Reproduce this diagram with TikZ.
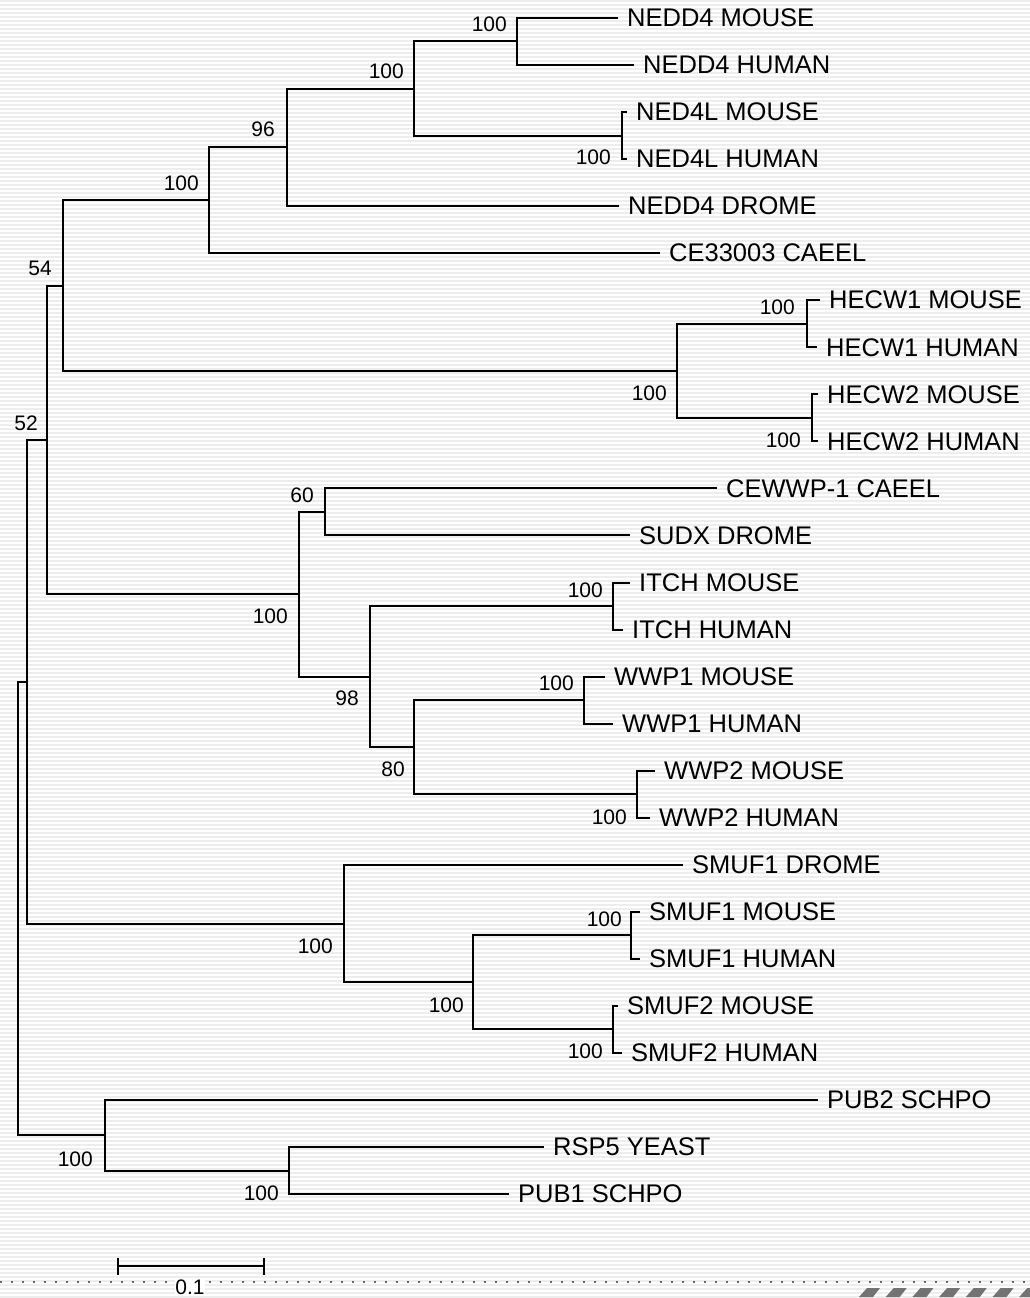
\documentclass[tikz,border=0pt]{standalone}
\usepackage{fontspec}
\setmainfont{Liberation Sans}
\begin{document}
\begin{tikzpicture}[x=1pt,y=-1pt,
  branch/.style={line width=2pt, line join=miter},
  leaf/.style={anchor=west, inner xsep=9pt, inner ysep=0pt, font=\fontsize{25.5}{30}\selectfont},
  bs/.style={anchor=east, inner sep=0pt, font=\fontsize{21}{25}\selectfont},
  stripe/.style={line width=1.6pt, black!7},
  hatch/.style={fill=black!55, draw=none}]
\useasboundingbox (0,0) rectangle (1030,1298);
\fill[white] (0,0) rectangle (1030,1298);
\foreach \i in {0,...,324} \draw[stripe] (0,{\i*4+1}) -- (1030,{\i*4+1});

% leaves
\node[leaf] (l1) at (618,18) {NEDD4 MOUSE};
\node[leaf] (l2) at (634,65) {NEDD4 HUMAN};
\node[leaf] (l3) at (627,112.1) {NED4L MOUSE};
\node[leaf] (l4) at (627,159.1) {NED4L HUMAN};
\node[leaf] (l5) at (619,206.2) {NEDD4 DROME};
\node[leaf] (l6) at (660,253.2) {CE33003 CAEEL};
\node[leaf] (l7) at (820,300.2) {HECW1 MOUSE};
\node[leaf] (l8) at (817,347.3) {HECW1 HUMAN};
\node[leaf] (l9) at (818,394.3) {HECW2 MOUSE};
\node[leaf] (l10) at (818,441.4) {HECW2 HUMAN};
\node[leaf] (l11) at (717,488.4) {CEWWP-1 CAEEL};
\node[leaf] (l12) at (630,535.4) {SUDX DROME};
\node[leaf] (l13) at (630,582.5) {ITCH MOUSE};
\node[leaf] (l14) at (623,629.5) {ITCH HUMAN};
\node[leaf] (l15) at (605,676.6) {WWP1 MOUSE};
\node[leaf] (l16) at (613,723.6) {WWP1 HUMAN};
\node[leaf] (l17) at (655,770.6) {WWP2 MOUSE};
\node[leaf] (l18) at (650,817.7) {WWP2 HUMAN};
\node[leaf] (l19) at (683,864.7) {SMUF1 DROME};
\node[leaf] (l20) at (640,911.8) {SMUF1 MOUSE};
\node[leaf] (l21) at (640,958.8) {SMUF1 HUMAN};
\node[leaf] (l22) at (618,1005.8) {SMUF2 MOUSE};
\node[leaf] (l23) at (622,1052.9) {SMUF2 HUMAN};
\node[leaf] (l24) at (818,1099.9) {PUB2 SCHPO};
\node[leaf] (l25) at (544,1147) {RSP5 YEAST};
\node[leaf] (l26) at (509,1194) {PUB1 SCHPO};

% internal nodes
\coordinate (n1) at (517,41.5);
\coordinate (n2) at (622,135.6);
\coordinate (nA) at (414,88.5);
\coordinate (nB) at (287,147.4);
\coordinate (nC) at (209,200.3);
\coordinate (h1) at (807,323.8);
\coordinate (h2) at (812,417.9);
\coordinate (nH) at (677,370.8);
\coordinate (nD) at (63,285.5);
\coordinate (n60) at (325,511.9);
\coordinate (nI) at (613,606);
\coordinate (nW1) at (584,700.1);
\coordinate (nW2) at (637,794.2);
\coordinate (n80) at (414,747.1);
\coordinate (n98) at (370,676.5);
\coordinate (nM) at (299,594.2);
\coordinate (n52) at (47,439.9);
\coordinate (s1) at (631,935.3);
\coordinate (s2) at (613,1029.4);
\coordinate (nS) at (473,982.3);
\coordinate (nSD) at (344,923.5);
\coordinate (nE) at (27,681.7);
\coordinate (y1) at (289,1170.5);
\coordinate (nP) at (105,1135.2);
\coordinate (root) at (18,908.5);

% branches
\draw[branch] (n1) |- (l1.west) (n1) |- (l2.west);
\draw[branch] (n2) |- (l3.west) (n2) |- (l4.west);
\draw[branch] (nA) |- (n1) (nA) |- (n2);
\draw[branch] (nB) |- (nA) (nB) |- (l5.west);
\draw[branch] (nC) |- (nB) (nC) |- (l6.west);
\draw[branch] (h1) |- (l7.west) (h1) |- (l8.west);
\draw[branch] (h2) |- (l9.west) (h2) |- (l10.west);
\draw[branch] (nH) |- (h1) (nH) |- (h2);
\draw[branch] (nD) |- (nC) (nD) |- (nH);
\draw[branch] (n60) |- (l11.west) (n60) |- (l12.west);
\draw[branch] (nI) |- (l13.west) (nI) |- (l14.west);
\draw[branch] (nW1) |- (l15.west) (nW1) |- (l16.west);
\draw[branch] (nW2) |- (l17.west) (nW2) |- (l18.west);
\draw[branch] (n80) |- (nW1) (n80) |- (nW2);
\draw[branch] (n98) |- (nI) (n98) |- (n80);
\draw[branch] (nM) |- (n60) (nM) |- (n98);
\draw[branch] (n52) |- (nD) (n52) |- (nM);
\draw[branch] (s1) |- (l20.west) (s1) |- (l21.west);
\draw[branch] (s2) |- (l22.west) (s2) |- (l23.west);
\draw[branch] (nS) |- (s1) (nS) |- (s2);
\draw[branch] (nSD) |- (l19.west) (nSD) |- (nS);
\draw[branch] (nE) |- (n52) (nE) |- (nSD);
\draw[branch] (y1) |- (l25.west) (y1) |- (l26.west);
\draw[branch] (nP) |- (l24.west) (nP) |- (y1);
\draw[branch] (root) |- (nE) (root) |- (nP);

% bootstrap values
\node[bs] (b1) at (507,24) {100};
\node[bs] (b2) at (611,157) {100};
\node[bs] (b3) at (404,71) {100};
\node[bs] (b4) at (275,129) {96};
\node[bs] (b5) at (199,183) {100};
\node[bs] (b6) at (795,307) {100};
\node[bs] (b7) at (801,440) {100};
\node[bs] (b8) at (667,393) {100};
\node[bs] (b9) at (52,268) {54};
\node[bs] (b10) at (38,423) {52};
\node[bs] (b11) at (314,495) {60};
\node[bs] (b12) at (603,590) {100};
\node[bs] (b13) at (574,683) {100};
\node[bs] (b14) at (627,817) {100};
\node[bs] (b15) at (405,769) {80};
\node[bs] (b16) at (359,698) {98};
\node[bs] (b17) at (288,616) {100};
\node[bs] (b18) at (622,919) {100};
\node[bs] (b19) at (603,1051) {100};
\node[bs] (b20) at (464,1005) {100};
\node[bs] (b21) at (333,946) {100};
\node[bs] (b22) at (279,1193) {100};
\node[bs] (b23) at (93,1159) {100};

% scale bar
\coordinate (sb1) at (118,1266);
\coordinate (sb2) at (264,1266);
\draw[line width=1.8pt, black!60, dash pattern=on 2pt off 9pt] (0,1282) -- (1030,1282);
\draw[line width=2pt] (sb1) -- (sb2);
\draw[line width=2pt] ([yshift=8pt]sb1) -- ([yshift=-9pt]sb1);
\draw[line width=2pt] ([yshift=8pt]sb2) -- ([yshift=-9pt]sb2);
\node[inner sep=0pt, fill=white, font=\fontsize{21}{25}\selectfont] (sbl) at (190,1287) {0.1};

% hatch at bottom right
\foreach \k in {0,...,6} {
  \fill[hatch] ({859+26.7*\k},1297) -- ({873+26.7*\k},1297) -- ({880+26.7*\k},1288) -- ({867+26.7*\k},1288) -- cycle;
}
\end{tikzpicture}
\end{document}
